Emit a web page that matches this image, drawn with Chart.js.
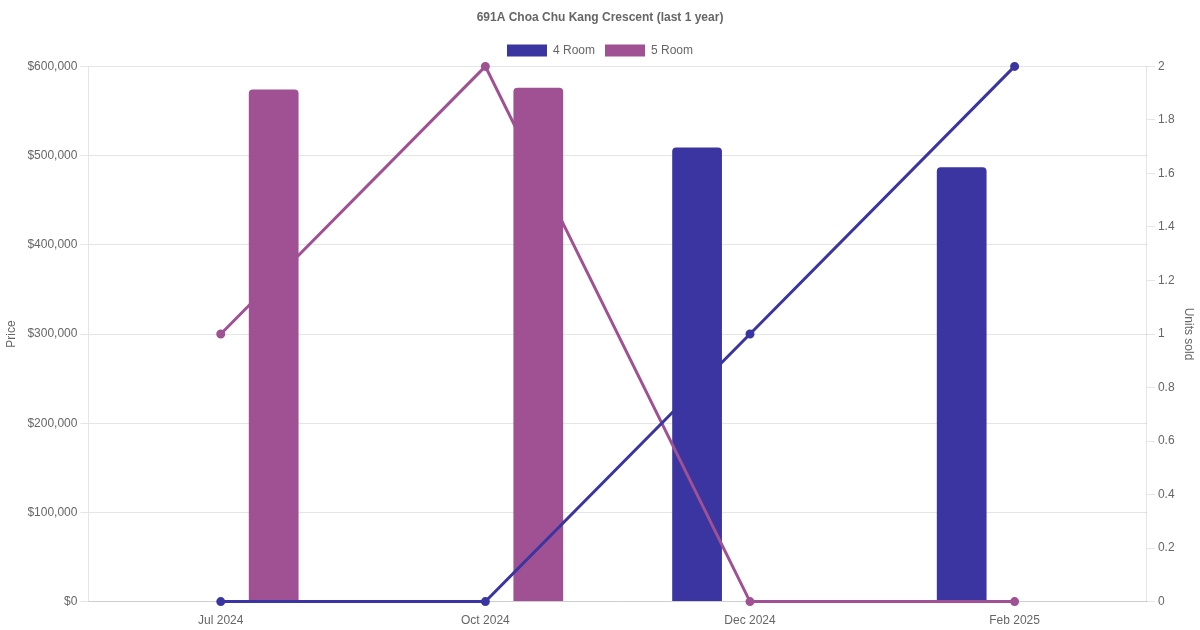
<!DOCTYPE html>
<html>
<head>
<meta charset="utf-8">
<script src="https://cdn.jsdelivr.net/npm/chart.js@4"></script>
<style>
  html, body { margin: 0; padding: 0; background: #fff; }
  #wrap { width: 1200px; height: 630px; }
</style>
</head>
<body>
<div id="wrap"><canvas id="chart"></canvas></div>
<script>
// data
const months = ['Jul 2024', 'Oct 2024', 'Dec 2024', 'Feb 2025'];
const price4Room = [null, null, 509000, 487000];
const price5Room = [574000, 576000, null, null];
const units4Room = [0, 0, 1, 2];
const units5Room = [1, 2, 0, 0];

const color4 = '#3a35a0';
const color5 = '#9f5193';

Chart.defaults.font.family = 'Liberation Sans, Arial, sans-serif';
Chart.defaults.font.size = 12;
Chart.defaults.color = '#666';

const ctx = document.getElementById('chart').getContext('2d');
new Chart(ctx, {
    type: 'bar',
    data: {
        labels: months,
        datasets: [
            {
                type: 'line',
                label: 'units4',
                data: units4Room,
                yAxisID: 'y1',
                borderColor: color4,
                backgroundColor: color4,
                borderWidth: 3,
                pointRadius: 3,
                tension: 0,
                order: 0
            },
            {
                type: 'line',
                label: 'units5',
                data: units5Room,
                yAxisID: 'y1',
                borderColor: color5,
                backgroundColor: color5,
                borderWidth: 3,
                pointRadius: 3,
                tension: 0,
                order: 0
            },
            {
                label: '4 Room',
                data: price4Room,
                yAxisID: 'y',
                backgroundColor: color4,
                borderRadius: 4,
                borderSkipped: 'bottom',
                barPercentage: 0.47,
                categoryPercentage: 0.8,
                order: 1
            },
            {
                label: '5 Room',
                data: price5Room,
                yAxisID: 'y',
                backgroundColor: color5,
                borderRadius: 4,
                borderSkipped: 'bottom',
                barPercentage: 0.47,
                categoryPercentage: 0.8,
                order: 1
            }
        ]
    },
    options: {
        responsive: true,
        maintainAspectRatio: false,
        animation: false,
        layout: { padding: { bottom: -2 } },
        plugins: {
            title: {
                display: true,
                text: '691A Choa Chu Kang Crescent (last 1 year)',
                font: { size: 12, weight: 'bold' },
                padding: { top: 10, bottom: 10 }
            },
            legend: {
                labels: {
                    boxWidth: 40,
                    boxHeight: 12,
                    filter: (item) => item.text === '4 Room' || item.text === '5 Room'
                }
            }
        },
        scales: {
            x: {
                grid: { display: false },
                ticks: { padding: 4 }
            },
            y: {
                position: 'left',
                beginAtZero: true,
                title: { display: true, text: 'Price', padding: { top: 4, bottom: 6 } },
                ticks: {
                    stepSize: 100000,
                    callback: (v) => '$' + v.toLocaleString('en-US')
                }
            },
            y1: {
                position: 'right',
                beginAtZero: true,
                title: { display: true, text: 'Units sold' },
                grid: { drawOnChartArea: false },
                ticks: {
                    stepSize: 0.2,
                    callback: (v) => String(Math.round(v * 10) / 10)
                }
            }
        }
    }
});
</script>
</body>
</html>
